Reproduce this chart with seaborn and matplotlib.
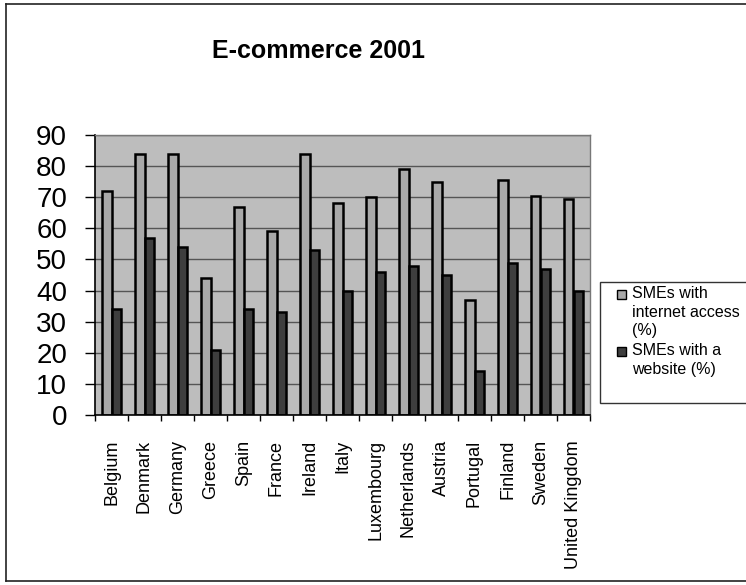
import matplotlib
matplotlib.use("Agg")
import matplotlib.pyplot as plt
import numpy as np
import pandas as pd
import seaborn as sns
from matplotlib.patches import Rectangle
from matplotlib.lines import Line2D

# Share of SMEs online, EU member states, 2001
countries = ["Belgium", "Denmark", "Germany", "Greece", "Spain", "France",
             "Ireland", "Italy", "Luxembourg", "Netherlands", "Austria",
             "Portugal", "Finland", "Sweden", "United Kingdom"]
internet_access = [72, 84, 84, 44, 67, 59, 84, 68, 70, 79, 75, 37, 75.5, 70.5, 69.5]
website = [34, 57, 54, 21, 34, 33, 53, 40, 46, 48, 45, 14, 49, 47, 40]
series_names = ["SMEs with internet access (%)", "SMEs with a website (%)"]
legend_labels = ["SMEs with\ninternet access\n(%)", "SMEs with a\nwebsite (%)"]
y_ticks = list(range(0, 100, 10))
title = "E-commerce 2001"

colors = ["#a9a9a9", "#3e3e3e"]

plt.rcParams["font.family"] = ["Liberation Sans", "DejaVu Sans"]

W, H = 746, 585
fig = plt.figure(figsize=(W / 100, H / 100), dpi=100)
fig.patch.set_facecolor("white")


def fx(px):
    return px / W


def fy(py):
    return 1 - py / H


ax = fig.add_axes([fx(95), fy(415), fx(590) - fx(95), fy(135) - fy(415)])

df = pd.DataFrame({
    "Country": countries * 2,
    "Value": internet_access + website,
    "Series": [series_names[0]] * len(countries) + [series_names[1]] * len(countries),
})

sns.barplot(data=df, x="Country", y="Value", hue="Series", order=countries,
            hue_order=series_names, palette=colors, saturation=1, width=0.6,
            edgecolor="black", linewidth=1.8, legend=False, ax=ax)

ax.set_facecolor("#bdbdbd")
ax.set_axisbelow(True)
ax.yaxis.grid(True, color="#555555", linewidth=1)
ax.xaxis.grid(False)
ax.set_ylim(0, 90)
ax.set_yticks(y_ticks)
ax.set_xlim(-0.5, len(countries) - 0.5)
ax.set_xlabel("")
ax.set_ylabel("")

ax.set_xticks(np.arange(-0.5, len(countries), 1), minor=True)
ax.tick_params(axis="x", which="major", length=0, pad=18, labelsize=13,
               labelrotation=90)
ax.tick_params(axis="x", which="minor", length=4, width=1, color="black",
               direction="out")
ax.tick_params(axis="y", length=7, width=1, color="black", direction="out",
               pad=13, labelsize=20)

for side in ["left", "bottom"]:
    ax.spines[side].set_color("black")
    ax.spines[side].set_linewidth(1.2)
for side in ["top", "right"]:
    ax.spines[side].set_color("#777777")
    ax.spines[side].set_linewidth(1)

# Title
fig.text(fx(318), fy(51), title, ha="center", va="center", fontsize=18,
         fontweight="bold")

# Legend box with entries
fig.patches.append(Rectangle((fx(600), fy(403)), fx(760) - fx(600), fy(282) - fy(403),
                             transform=fig.transFigure, facecolor="white",
                             edgecolor="#333333", linewidth=1, zorder=1))
entry_tops = [286, 343]
for label, color, top in zip(legend_labels, colors, entry_tops):
    fig.patches.append(Rectangle((fx(617), fy(top + 13)), fx(9), fy(0) - fy(9),
                                 transform=fig.transFigure, facecolor=color,
                                 edgecolor="black", linewidth=1, zorder=2))
    fig.text(fx(632), fy(top), label, ha="left", va="top", fontsize=11.5,
             linespacing=1.3, zorder=3)

# Outer chart frame
frame_kw = dict(color="#222222", linewidth=1.2, transform=fig.transFigure)
fig.add_artist(Line2D([fx(6), fx(6)], [fy(4), fy(581)], **frame_kw))
fig.add_artist(Line2D([fx(6), fx(760)], [fy(4), fy(4)], **frame_kw))
fig.add_artist(Line2D([fx(6), fx(760)], [fy(581), fy(581)], **frame_kw))

fig.savefig("out.png", dpi=100)
